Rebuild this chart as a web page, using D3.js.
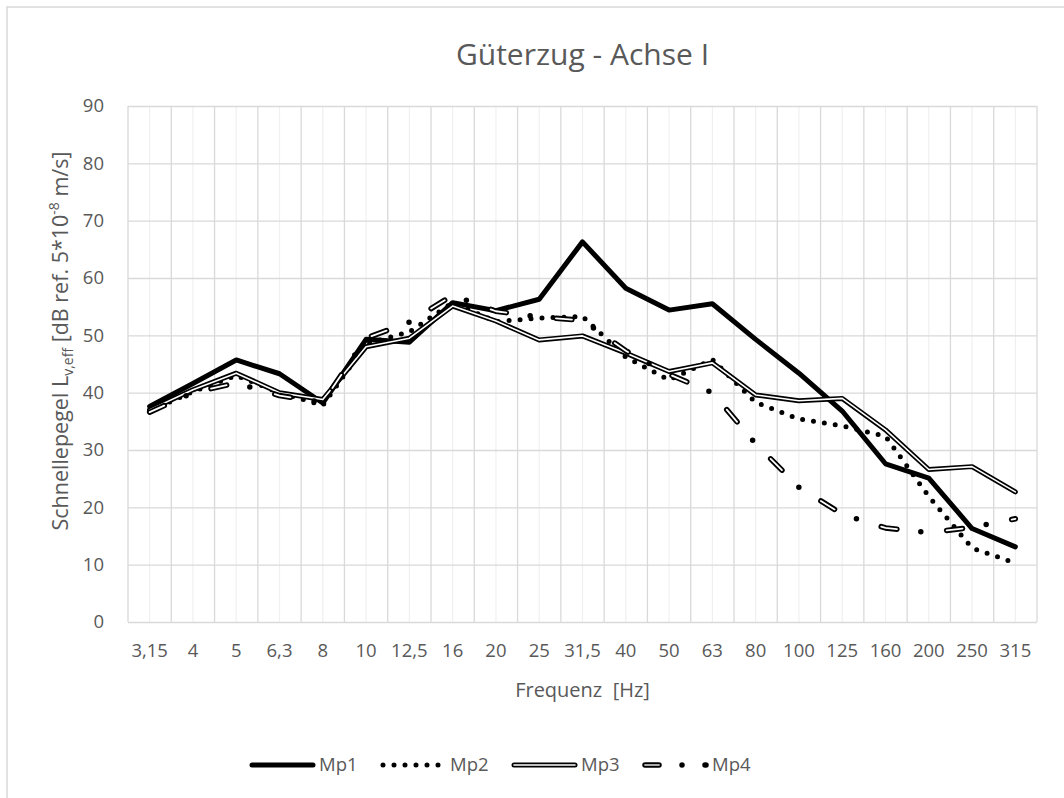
<!DOCTYPE html>
<meta charset="utf-8">
<style>
body {
  margin: 0;
  background: #fff;
  font-family: 'Open Sans', sans-serif;
}
text {
  fill: #595959;
}
.axis .domain {
  display: none;
}
</style>
<body>
<div id="chart"></div>
<script src="https://d3js.org/d3.v7.min.js"></script>
<script>
// terz band centre frequencies (category axis)
var categories = ["3,15", "4", "5", "6,3", "8", "10", "12,5", "16", "20", "25", "31,5",
                  "40", "50", "63", "80", "100", "125", "160", "200", "250", "315"];

// values, dB
var mp1 = [37.6, 41.6, 45.7, 43.3, 38.2, 49.3, 48.8, 55.7, 54.3, 56.3, 66.3,
           58.2, 54.4, 55.5, 49.3, 43.4, 36.8, 27.6, 25.1, 16.3, 13.1];
var mp2 = [36.8, 40.2, 43.0, 40.0, 37.8, 48.5, 50.6, 55.7, 52.4, 53.0, 53.3,
           46.2, 42.2, 45.8, 38.3, 35.4, 34.2, 32.4, 21.9, 12.9, 10.3];
var mp3 = [37.0, 40.5, 43.4, 40.0, 38.8, 48.0, 49.5, 55.1, 52.5, 49.2, 49.9,
           46.9, 43.7, 45.2, 39.6, 38.6, 39.0, 33.5, 26.6, 27.1, 22.7];
var mp4 = [36.6, 40.0, 41.7, 39.5, 38.3, 49.5, 52.3, 57.0, 54.2, 53.2, 52.6,
           47.3, 43.2, 40.0, 31.1, 23.5, 18.8, 16.4, 15.6, 16.5, 18.0];

var seriesNames = ["Mp1", "Mp2", "Mp3", "Mp4"];
var yTicks = [0, 10, 20, 30, 40, 50, 60, 70, 80, 90];

var width = 1064,
    height = 798;

var plot = {left: 128, right: 1037, top: 106, bottom: 622};

var svg = d3.select("#chart").append("svg")
    .attr("width", width)
    .attr("height", height);

svg.append("rect")
    .attr("width", width)
    .attr("height", height)
    .attr("fill", "#fff");

// chart area frame, it runs past the right and bottom edge of the picture
svg.append("rect")
    .attr("x", 7)
    .attr("y", 7)
    .attr("width", 1300)
    .attr("height", 1000)
    .attr("fill", "none")
    .attr("stroke", "#d9d9d9")
    .attr("stroke-width", 1.5);

var x = d3.scaleBand()
    .domain(categories)
    .range([plot.left, plot.right]);

var y = d3.scaleLinear()
    .domain([0, 90])
    .range([plot.bottom, plot.top]);

function cx(d) { return x(d) + x.bandwidth() / 2; }

// minor vertical gridlines through the category centres
svg.append("g")
  .selectAll("line")
    .data(categories)
  .enter().append("line")
    .attr("x1", cx)
    .attr("x2", cx)
    .attr("y1", y(90))
    .attr("y2", y(0))
    .attr("stroke", "#f0f0f0")
    .attr("stroke-width", 1.2);

// major vertical gridlines on the band edges
var edges = categories.map(function(d) { return x(d); }).concat([x.range()[1]]);
svg.append("g")
  .selectAll("line")
    .data(edges)
  .enter().append("line")
    .attr("x1", function(d) { return d; })
    .attr("x2", function(d) { return d; })
    .attr("y1", y(90))
    .attr("y2", y(0))
    .attr("stroke", "#d9d9d9")
    .attr("stroke-width", 1.3);

// y axis: labels plus horizontal gridlines
var yAxis = svg.append("g")
    .attr("class", "axis")
    .attr("transform", "translate(" + plot.left + ",0)")
    .call(d3.axisLeft(y)
      .tickValues(yTicks)
      .tickSize(-(plot.right - plot.left))
      .tickPadding(24));
yAxis.selectAll(".tick line")
    .attr("stroke", "#d9d9d9")
    .attr("stroke-width", 1.3);
yAxis.selectAll("text")
    .attr("fill", "#595959")
    .style("font-size", "18.5px")
    .style("font-family", "'Open Sans', sans-serif");

// x axis labels
var xAxis = svg.append("g")
    .attr("class", "axis")
    .attr("transform", "translate(0," + plot.bottom + ")")
    .call(d3.axisBottom(x).tickSize(0).tickPadding(22));
xAxis.selectAll("text")
    .attr("fill", "#595959")
    .style("font-size", "18.5px")
    .style("font-family", "'Open Sans', sans-serif");

// title
svg.append("text")
    .attr("x", (plot.left + plot.right) / 2)
    .attr("y", 65)
    .attr("text-anchor", "middle")
    .style("font-size", "30px")
    .text("Güterzug - Achse I");

// x axis title
svg.append("text")
    .attr("x", (plot.left + plot.right) / 2)
    .attr("y", 697)
    .attr("text-anchor", "middle")
    .style("font-size", "20px")
    .style("white-space", "pre")
    .text("Frequenz  [Hz]");

// y axis title, with subscript and superscript
var yTitle = svg.append("text")
    .attr("transform", "translate(68,341) rotate(-90)")
    .attr("text-anchor", "middle")
    .style("font-size", "21.5px");
yTitle.append("tspan").text("Schnellepegel L");
yTitle.append("tspan").attr("dy", 5).style("font-size", "14px").text("v,eff");
yTitle.append("tspan").attr("dy", -5).text(" [dB ref. 5*10");
yTitle.append("tspan").attr("dy", -9).style("font-size", "14px").text("-8");
yTitle.append("tspan").attr("dy", 9).text(" m/s]");

// how each series is stroked: layers drawn on top of each other
var styles = [
  [{stroke: "#000", width: 5, dash: null}],
  [{stroke: "#000", width: 5, dash: "0 11"}],
  [{stroke: "#000", width: 5, dash: null}, {stroke: "#fff", width: 1.6, dash: null}],
  [{stroke: "#000", width: 5.5, dash: "16 24 0 26"}, {stroke: "#fff", width: 1.8, dash: "16 50"}]
];
var legendStyles = [
  styles[0],
  styles[1],
  styles[2],
  [{stroke: "#000", width: 5.5, dash: "14 23 0 23"}, {stroke: "#aaa", width: 1.8, dash: "14 100"}]
];

var series = [mp1, mp2, mp3, mp4];

var line = d3.line()
    .x(function(d, i) { return cx(categories[i]); })
    .y(function(d) { return y(d); });

series.forEach(function(values, s) {
  var g = svg.append("g").attr("class", "series");
  styles[s].forEach(function(st) {
    g.append("path")
        .datum(values)
        .attr("d", line)
        .attr("fill", "none")
        .attr("stroke", st.stroke)
        .attr("stroke-width", st.width)
        .attr("stroke-linejoin", "round")
        .attr("stroke-linecap", "round")
        .attr("stroke-dasharray", st.dash);
  });
});

// legend
var legendX = d3.scaleLinear().domain([0, 1]).range([252, 383]);
var legendY = 765;

var legend = svg.append("g")
  .selectAll("g")
    .data(seriesNames)
  .enter().append("g")
    .attr("transform", function(d, i) { return "translate(" + legendX(i) + "," + legendY + ")"; });

legend.each(function(name, i) {
  var g = d3.select(this);
  legendStyles[i].forEach(function(st) {
    g.append("line")
        .attr("x1", 0)
        .attr("x2", 61)
        .attr("stroke", st.stroke)
        .attr("stroke-width", st.width)
        .attr("stroke-linecap", "round")
        .attr("stroke-dasharray", st.dash);
  });
  g.append("text")
      .attr("x", 67)
      .attr("dy", "0.35em")
      .style("font-size", "18.5px")
      .text(name);
});
</script>
</body>
